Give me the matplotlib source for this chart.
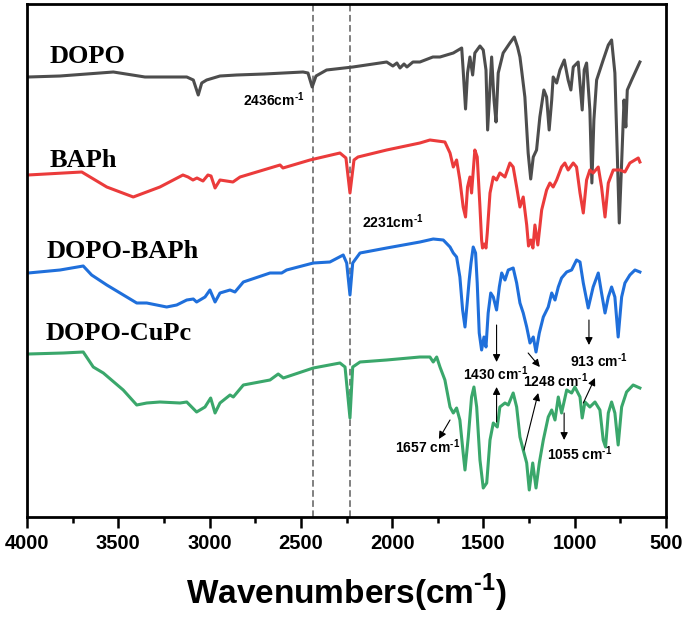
import numpy as np
import matplotlib
matplotlib.use("Agg")
import matplotlib.pyplot as plt
from matplotlib.ticker import MultipleLocator

plt.rcParams['font.family'] = ['Liberation Sans', 'DejaVu Sans']
plt.rcParams['mathtext.fontset'] = 'custom'
plt.rcParams['mathtext.rm'] = 'Liberation Sans:bold'
plt.rcParams['mathtext.bf'] = 'Liberation Sans:bold'

# ---- spectra (wavenumber, relative transmittance a.u.) ----
dopo_wn = [3993, 3819, 3527, 3354, 3125, 3089, 3062, 3043, 3016, 2943, 2852, 2700, 2488, 2461,
           2438, 2417, 2359, 2215, 2030, 1996, 1974, 1957, 1935, 1919, 1886, 1848, 1777, 1738,
           1665, 1619, 1611, 1598, 1587, 1574, 1559, 1547, 1519, 1501, 1486, 1477, 1464, 1455,
           1442, 1431, 1419, 1392, 1355, 1331, 1313, 1300, 1291, 1273, 1255, 1241, 1227, 1209,
           1191, 1169, 1154, 1140, 1126, 1118, 1099, 1081, 1057, 1036, 1021, 1008, 981, 959,
           948, 935, 917, 906, 895, 880, 844, 816, 798, 780, 767, 756, 743, 730, 720, 712, 688, 643]
dopo_t = [440, 441, 445, 440, 440, 437, 422, 434, 437, 441, 442, 443, 445, 444,
          430, 441, 447, 450, 455, 451, 454, 449, 453, 450, 455, 455, 460, 460,
          464, 469, 447, 408, 444, 460, 442, 464, 471, 467, 447, 387, 430, 460,
          417, 395, 444, 464, 474, 480, 470, 460, 447, 420, 364, 338, 360, 367,
          400, 427, 420, 387, 417, 440, 434, 447, 457, 437, 427, 450, 455, 407,
          447, 454, 407, 334, 397, 437, 457, 472, 477, 444, 364, 294, 354, 417, 390, 427, 437, 455]

baph_wn = [3995, 3700, 3563, 3418, 3272, 3146, 3118, 3091, 3069, 3036, 3009, 2992, 2970, 2943,
           2872, 2833, 2614, 2598, 2450, 2286, 2253, 2231, 2209, 2187, 2030, 1848, 1793, 1711,
           1683, 1665, 1647, 1629, 1611, 1598, 1587, 1574, 1565, 1547, 1534, 1519, 1510, 1505,
           1495, 1486, 1479, 1464, 1446, 1428, 1410, 1382, 1355, 1337, 1318, 1300, 1282, 1263,
           1253, 1240, 1229, 1218, 1202, 1181, 1154, 1136, 1118, 1099, 1072, 1054, 1036, 1008,
           990, 971, 953, 935, 917, 899, 871, 853, 834, 816, 789, 752, 725, 698, 652, 643]
baph_t = [342, 345, 330, 320, 330, 342, 340, 337, 339, 336, 342, 341, 329, 337,
          335, 340, 352, 349, 357, 364, 359, 324, 357, 360, 367, 374, 377, 375,
          364, 350, 357, 337, 310, 300, 330, 340, 324, 367, 360, 310, 277, 269,
          273, 269, 284, 324, 340, 337, 344, 340, 354, 350, 330, 310, 320, 292,
          271, 277, 269, 292, 272, 307, 327, 334, 330, 337, 350, 354, 347, 354,
          350, 324, 304, 337, 347, 344, 350, 330, 300, 334, 347, 347, 345, 354, 359, 355]

dobaph_wn = [3993, 3819, 3692, 3646, 3563, 3399, 3344, 3235, 3180, 3125, 3089, 3071, 3025, 2998,
             2970, 2943, 2888, 2861, 2815, 2669, 2605, 2578, 2432, 2341, 2268, 2249, 2231, 2216,
             2176, 2030, 1848, 1775, 1720, 1683, 1665, 1647, 1629, 1614, 1601, 1589, 1578, 1568,
             1556, 1543, 1534, 1523, 1510, 1497, 1486, 1474, 1460, 1446, 1428, 1413, 1400, 1382,
             1364, 1337, 1318, 1300, 1282, 1263, 1245, 1227, 1212, 1194, 1172, 1145, 1126, 1108,
             1090, 1072, 1044, 1017, 990, 971, 953, 926, 899, 871, 853, 834, 816, 798, 780, 762,
             743, 725, 698, 670, 643]
dobaph_t = [244, 247, 251, 242, 232, 214, 214, 210, 212, 217, 218, 215, 220, 227,
            215, 224, 227, 225, 235, 244, 244, 247, 254, 255, 262, 254, 222, 254,
            264, 269, 275, 278, 277, 270, 264, 260, 240, 207, 190, 214, 237, 254,
            270, 264, 234, 184, 167, 180, 170, 204, 224, 220, 207, 230, 244, 237,
            247, 249, 234, 214, 204, 190, 174, 180, 165, 184, 200, 210, 224, 217,
            230, 239, 245, 247, 257, 255, 234, 209, 230, 244, 224, 204, 220, 230, 220, 180,
            220, 234, 242, 247, 245]

docupc_wn = [3993, 3801, 3692, 3637, 3582, 3473, 3399, 3344, 3272, 3162, 3125, 3071, 3025, 2994,
             2970, 2943, 2888, 2870, 2815, 2669, 2624, 2596, 2432, 2286, 2258, 2231, 2216, 2176,
             2030, 1848, 1793, 1775, 1756, 1738, 1711, 1683, 1665, 1647, 1629, 1611, 1601, 1583,
             1565, 1552, 1537, 1519, 1501, 1482, 1464, 1446, 1424, 1410, 1382, 1364, 1337, 1318,
             1300, 1282, 1263, 1249, 1230, 1212, 1194, 1172, 1145, 1126, 1108, 1090, 1072, 1044,
             1017, 999, 971, 959, 944, 917, 889, 862, 844, 831, 816, 798, 780, 762, 743, 716, 680, 643]
docupc_t = [163, 164, 165, 150, 144, 127, 112, 114, 115, 114, 115, 105, 110, 119,
            104, 114, 122, 120, 132, 137, 143, 139, 149, 154, 150, 99, 150, 155,
            157, 160, 160, 155, 160, 150, 137, 110, 104, 109, 97, 64, 47, 80,
            120, 130, 110, 57, 29, 34, 77, 94, 90, 110, 114, 112, 124, 110,
            80, 67, 54, 27, 54, 29, 54, 77, 100, 107, 97, 120, 104, 127,
            124, 130, 120, 99, 115, 110, 115, 107, 77, 70, 104, 115, 104, 72, 110, 125, 132, 129]

names = ['DOPO', 'BAPh', 'DOPO-BAPh', 'DOPO-CuPc']
colors = ['#4D4D4D', '#EB3B3B', '#1F6FDB', '#3AA76B']
marked_peaks = [2436, 2231]

fig = plt.figure(figsize=(6.85, 6.2), dpi=100)
ax = fig.add_axes([27 / 685, 1 - 517 / 620, 639 / 685, 513 / 620])

series = [(dopo_wn, dopo_t), (baph_wn, baph_t), (dobaph_wn, dobaph_t), (docupc_wn, docupc_t)]
for (wn, t), c in zip(series, colors):
    ax.plot(wn, t, color=c, lw=2.2, solid_joinstyle='round')

for p in marked_peaks:
    ax.axvline(p, color='#808080', lw=1.4, ls=(0, (3.4, 1.8)), zorder=0)

# curve names
name_pos = [(3874, 454), (3878, 350), (3892, 259), (3901, 177)]
for n, (x, y) in zip(names, name_pos):
    ax.text(x, y, n, family='Liberation Serif', fontweight='bold', fontsize=19,
            ha='left', va='baseline')

# peak labels
sup = r'$^{\text{-}1}$'
ax.text(2815, 411, '2436cm' + sup, fontsize=10, fontweight='bold', va='baseline')
ax.text(2167, 289, '2231cm' + sup, fontsize=10, fontweight='bold', va='baseline')
ax.text(1612, 137, '1430 cm' + sup, fontsize=10, fontweight='bold', va='baseline')
ax.text(1284, 130, '1248 cm' + sup, fontsize=10, fontweight='bold', va='baseline')
ax.text(1026, 150, '913 cm' + sup, fontsize=10, fontweight='bold', va='baseline')
ax.text(1154, 57, '1055 cm' + sup, fontsize=10, fontweight='bold', va='baseline')
ax.text(1985, 64, '1657 cm' + sup, fontsize=10, fontweight='bold', va='baseline')

arrows = [((1428, 192), (1428, 155)), ((1428, 95), (1428, 130)),
          ((1255, 164), (1191, 150)), ((1278, 67), (1200, 124)),
          ((922, 197), (922, 172)), ((953, 114), (889, 139)),
          ((1058, 104), (1058, 77)), ((1683, 97), (1744, 78))]
for tail, head in arrows:
    ax.annotate('', xy=head, xytext=tail,
                arrowprops=dict(arrowstyle='-|>', color='black', lw=0.8,
                                shrinkA=0, shrinkB=0, mutation_scale=11))

ax.set_xlim(4000, 500)
ax.set_ylim(0, 513)
ax.set_yticks([])
ax.xaxis.set_major_locator(MultipleLocator(500))
ax.xaxis.set_minor_locator(MultipleLocator(250))
ax.tick_params(axis='x', which='major', direction='out', length=8, width=1.8, pad=4, labelsize=14.5)
ax.tick_params(axis='x', which='minor', direction='out', length=4.5, width=1.8)
for lbl in ax.get_xticklabels():
    lbl.set_fontweight('bold')
for s in ax.spines.values():
    s.set_linewidth(2)

ax.set_xlabel('Wavenumbers(cm' + r'$^{\text{-}1}$' + ')', fontsize=24, fontweight='bold', labelpad=14)

fig.savefig('out.png', dpi=100)
